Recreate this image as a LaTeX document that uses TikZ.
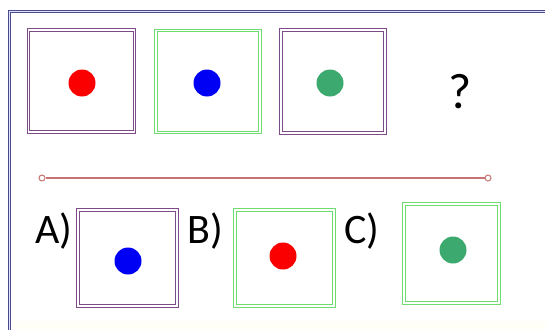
\documentclass[tikz,border=0pt]{standalone}
\usepackage{fontspec}
\setmainfont{Carlito}
\usepackage{xcolor}
\usetikzlibrary{shapes,positioning}
\definecolor{framecolor}{RGB}{75,75,140}
\definecolor{purplecolor}{RGB}{125,75,135}
\definecolor{greencolor}{RGB}{110,220,110}
\definecolor{dotred}{RGB}{250,0,0}
\definecolor{dotblue}{RGB}{0,0,245}
\definecolor{dotgreen}{RGB}{60,170,110}
\definecolor{linecolor}{RGB}{200,115,115}

\begin{document}
\begin{tikzpicture}[
    x=1pt, y=-1pt,
    every node/.style={font=\fontsize{42}{46}\selectfont},
    purplebox/.style={rectangle, draw=purplecolor, double=white, line width=1.2pt, double distance=1.3pt, minimum width=104pt, minimum height=102pt, inner sep=0pt},
    greenbox/.style={rectangle, draw=greencolor, double=white, line width=1.3pt, double distance=1.3pt, minimum width=104pt, minimum height=102pt, inner sep=0pt},
    dot/.style={circle, minimum size=27pt, inner sep=0pt},
    label/.style={anchor=base west, inner sep=0pt},
    endpt/.style={circle, draw=linecolor, fill=white, line width=1pt, minimum size=6pt, inner sep=0pt}
]
\useasboundingbox (0,0) rectangle (545,329);

% Frame
\fill[yellow!3] (12,321) rectangle (545,329);
\draw[framecolor, double=blue!12, line width=1.1pt, double distance=1.2pt] (9.5,335) -- (9.5,11.5) -- (550,11.5);

% Top row
\node[purplebox, minimum width=106pt] (box1) at (81.5,81) {};
\node[greenbox] (box2) at (208,81.5) {};
\node[purplebox, minimum height=103pt] (box3) at (333,81.5) {};
\node[dot, fill=dotred] (dot1) at (82,83) {};
\node[dot, fill=dotblue] (dot2) at (207,83) {};
\node[dot, fill=dotgreen] (dot3) at (330,83) {};
\node[anchor=base, inner sep=0pt, font=\fontsize{50}{54}\selectfont] (quest) at (460,108) {?};

% Separator
\node[endpt] (lineL) at (42,178) {};
\node[endpt] (lineR) at (488,178) {};
\draw[linecolor, line width=2.2pt] (lineL) -- (lineR);

% Answers
\node[label] (labA) at (35,243) {A)};
\node[purplebox, minimum width=99pt, minimum height=96pt] (boxA) at (127.5,258) {};
\node[dot, fill=dotblue] (dotA) at (128,261) {};

\node[label] (labB) at (187,243) {B)};
\node[greenbox, minimum width=99pt, minimum height=96pt] (boxB) at (284.5,258) {};
\node[dot, fill=dotred] (dotB) at (283,256) {};

\node[label] (labC) at (344,243) {C)};
\node[greenbox, minimum width=95pt, minimum height=99pt] (boxC) at (451.5,253.5) {};
\node[dot, fill=dotgreen] (dotC) at (453,250) {};

\end{tikzpicture}
\end{document}
